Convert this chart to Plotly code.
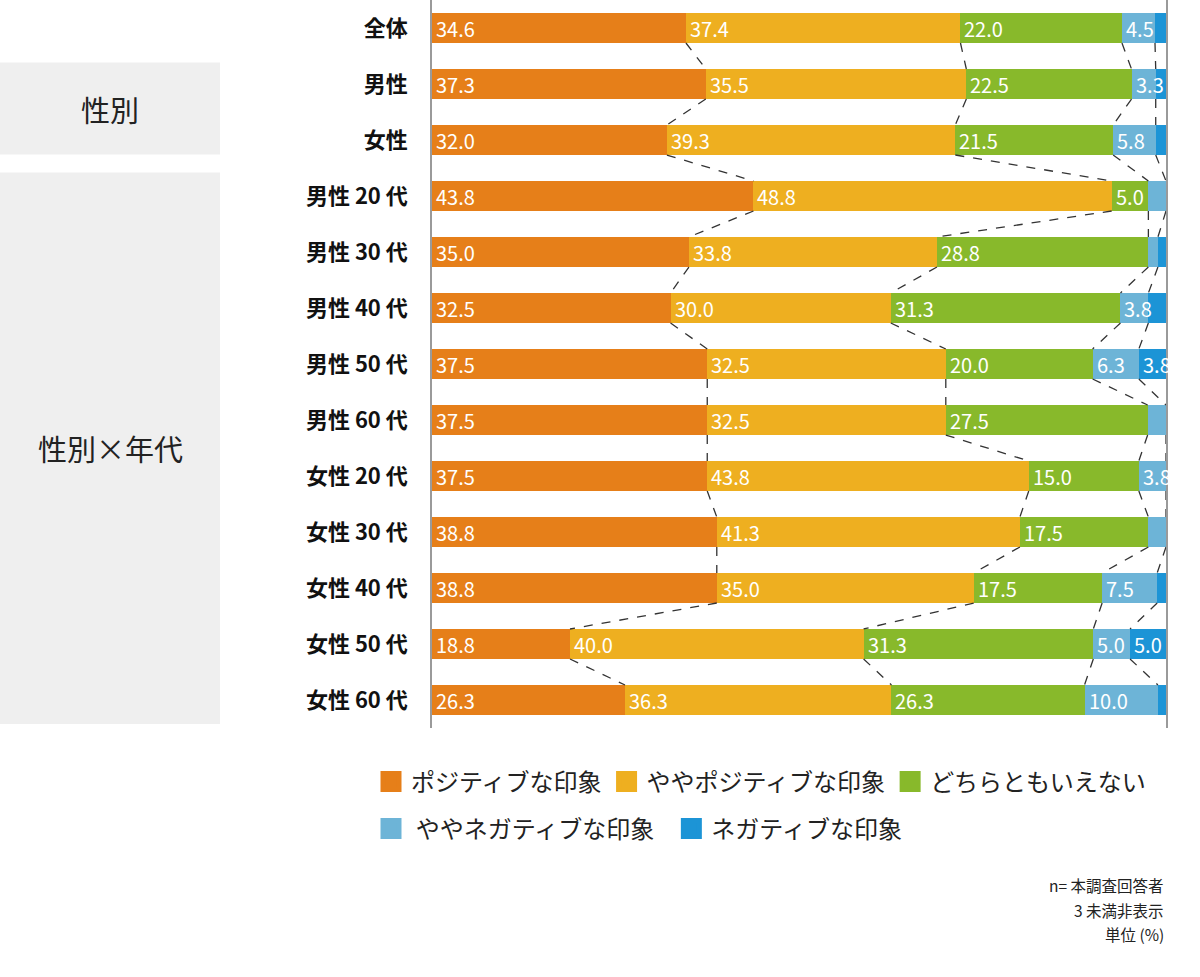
import plotly.graph_objects as go

categories = ["全体", "男性", "女性", "男性 20 代", "男性 30 代", "男性 40 代", "男性 50 代",
              "男性 60 代", "女性 20 代", "女性 30 代", "女性 40 代", "女性 50 代", "女性 60 代"]
series_names = ["ポジティブな印象", "ややポジティブな印象", "どちらともいえない",
                "ややネガティブな印象", "ネガティブな印象"]
positive      = [34.6, 37.3, 32.0, 43.8, 35.0, 32.5, 37.5, 37.5, 37.5, 38.8, 38.8, 18.8, 26.3]
slightly_pos  = [37.4, 35.5, 39.3, 48.8, 33.8, 30.0, 32.5, 32.5, 43.8, 41.3, 35.0, 40.0, 36.3]
neutral       = [22.0, 22.5, 21.5, 5.0, 28.8, 31.3, 20.0, 27.5, 15.0, 17.5, 17.5, 31.3, 26.3]
slightly_neg  = [4.5, 3.3, 5.8, 2.5, 1.3, 3.8, 6.3, 2.5, 3.8, 2.5, 7.5, 5.0, 10.0]
negative      = [1.5, 1.4, 1.4, 0.0, 1.3, 2.5, 3.8, 0.0, 0.0, 0.0, 1.3, 5.0, 1.3]
groups = [("性別", 1, 2), ("性別×年代", 3, 12)]
notes = ["n= 本調査回答者", "3 未満非表示", "単位 (%)"]

series = [positive, slightly_pos, neutral, slightly_neg, negative]
colors = ["#E67F19", "#EEAF20", "#88B92B", "#6DB4D7", "#1C94D6"]
FONT = "Noto Sans CJK JP"
BAR_W = 0.536
ypos = list(range(len(categories)))

fig = go.Figure()
for name, vals, col in zip(series_names, series, colors):
    fig.add_trace(go.Bar(
        y=ypos, x=vals, orientation="h", name=name, marker=dict(color=col, line=dict(width=0)),
        width=BAR_W, showlegend=False, hoverinfo="skip",
    ))

# cumulative boundaries
starts, cum = [], []
for i in range(len(categories)):
    s, st, row = 0.0, [], []
    for vals in series:
        st.append(s)
        s += vals[i]
        row.append(min(s, 100.0))
    starts.append(st)
    cum.append(row[:-1])

# dashed connectors between cumulative boundaries of consecutive bars
cx, cy = [], []
for i in range(len(categories) - 1):
    for k in range(len(series) - 1):
        cx += [cum[i][k], cum[i + 1][k], None]
        cy += [i + BAR_W / 2, i + 1 - BAR_W / 2, None]
fig.add_trace(go.Scatter(x=cx, y=cy, mode="lines", showlegend=False, hoverinfo="skip",
                         line=dict(color="#333333", width=1.3, dash="dash")))

# legend entries (two rows)
legend_labels = [series_names[0], series_names[1], series_names[2],
                 "\u2009" + series_names[3] + "\u2002", series_names[4]]
for j, (name, col) in enumerate(zip(legend_labels, colors)):
    fig.add_trace(go.Scatter(x=[None], y=[None], mode="markers", name=name,
                             marker=dict(symbol="square", size=16, color=col,
                                         line=dict(color=col, width=5)),
                             legend="legend" if j < 3 else "legend2"))

px2x = lambda px: (px - 432) / 734
px2py = lambda py: 1 - py / 728
py2y = lambda py: (py - 28) / 56
legend_common = dict(orientation="h", xanchor="left", yanchor="middle", traceorder="normal",
                     font=dict(size=24, family=FONT, color="#222"), itemsizing="trace",
                     bgcolor="rgba(0,0,0,0)")
fig.update_layout(
    legend=dict(x=px2x(371), y=px2py(782), **legend_common),
    legend2=dict(x=px2x(371), y=px2py(829), **legend_common),
)

annotations = []
# value labels (shown when >= 3), left-aligned at each segment start
for i in range(len(categories)):
    for k, vals in enumerate(series):
        v = vals[i]
        if v >= 3:
            annotations.append(dict(x=starts[i][k], y=i, xref="x", yref="y", text=f"{v:.1f}",
                                    showarrow=False, xanchor="left", yanchor="middle", xshift=2,
                                    font=dict(size=20, family=FONT, color="white")))

group_px = [(62.5, 154.5), (172.5, 724)]
shapes = []
for (label, a, b), (p0, p1) in zip(groups, group_px):
    shapes.append(dict(type="rect", xref="paper", yref="y", x0=px2x(0), x1=px2x(220),
                       y0=py2y(p0), y1=py2y(p1),
                       fillcolor="#EFEFEF", line=dict(width=0), layer="below"))
    annotations.append(dict(xref="paper", yref="y", x=px2x(110), y=(py2y(p0) + py2y(p1)) / 2,
                            text=label, showarrow=False, xanchor="center", yanchor="middle",
                            font=dict(size=29, family=FONT, color="#222")))
for n, t in enumerate(notes):
    annotations.append(dict(xref="paper", yref="paper", x=px2x(1166), y=px2py(885 + 24.5 * n),
                            text=t, showarrow=False, xanchor="right", yanchor="middle",
                            font=dict(size=15.5, family=FONT, color="#222")))

fig.update_layout(
    width=1200, height=977, margin=dict(l=432, r=34, t=0, b=249),
    plot_bgcolor="white", paper_bgcolor="white", barmode="stack", bargap=0,
    shapes=shapes, annotations=annotations,
    xaxis=dict(range=[0, 100], visible=False, fixedrange=True),
    yaxis=dict(range=[len(categories) - 0.5, -0.5], tickvals=ypos, ticktext=categories,
               showgrid=False, zeroline=False, showline=True, mirror=True,
               linecolor="#9A9A9A", linewidth=1.5, ticks="", ticklabelstandoff=18,
               tickfont=dict(size=22, family=FONT, color="#111", weight="bold")),
    font=dict(family=FONT),
)
fig.write_html("out.html")
